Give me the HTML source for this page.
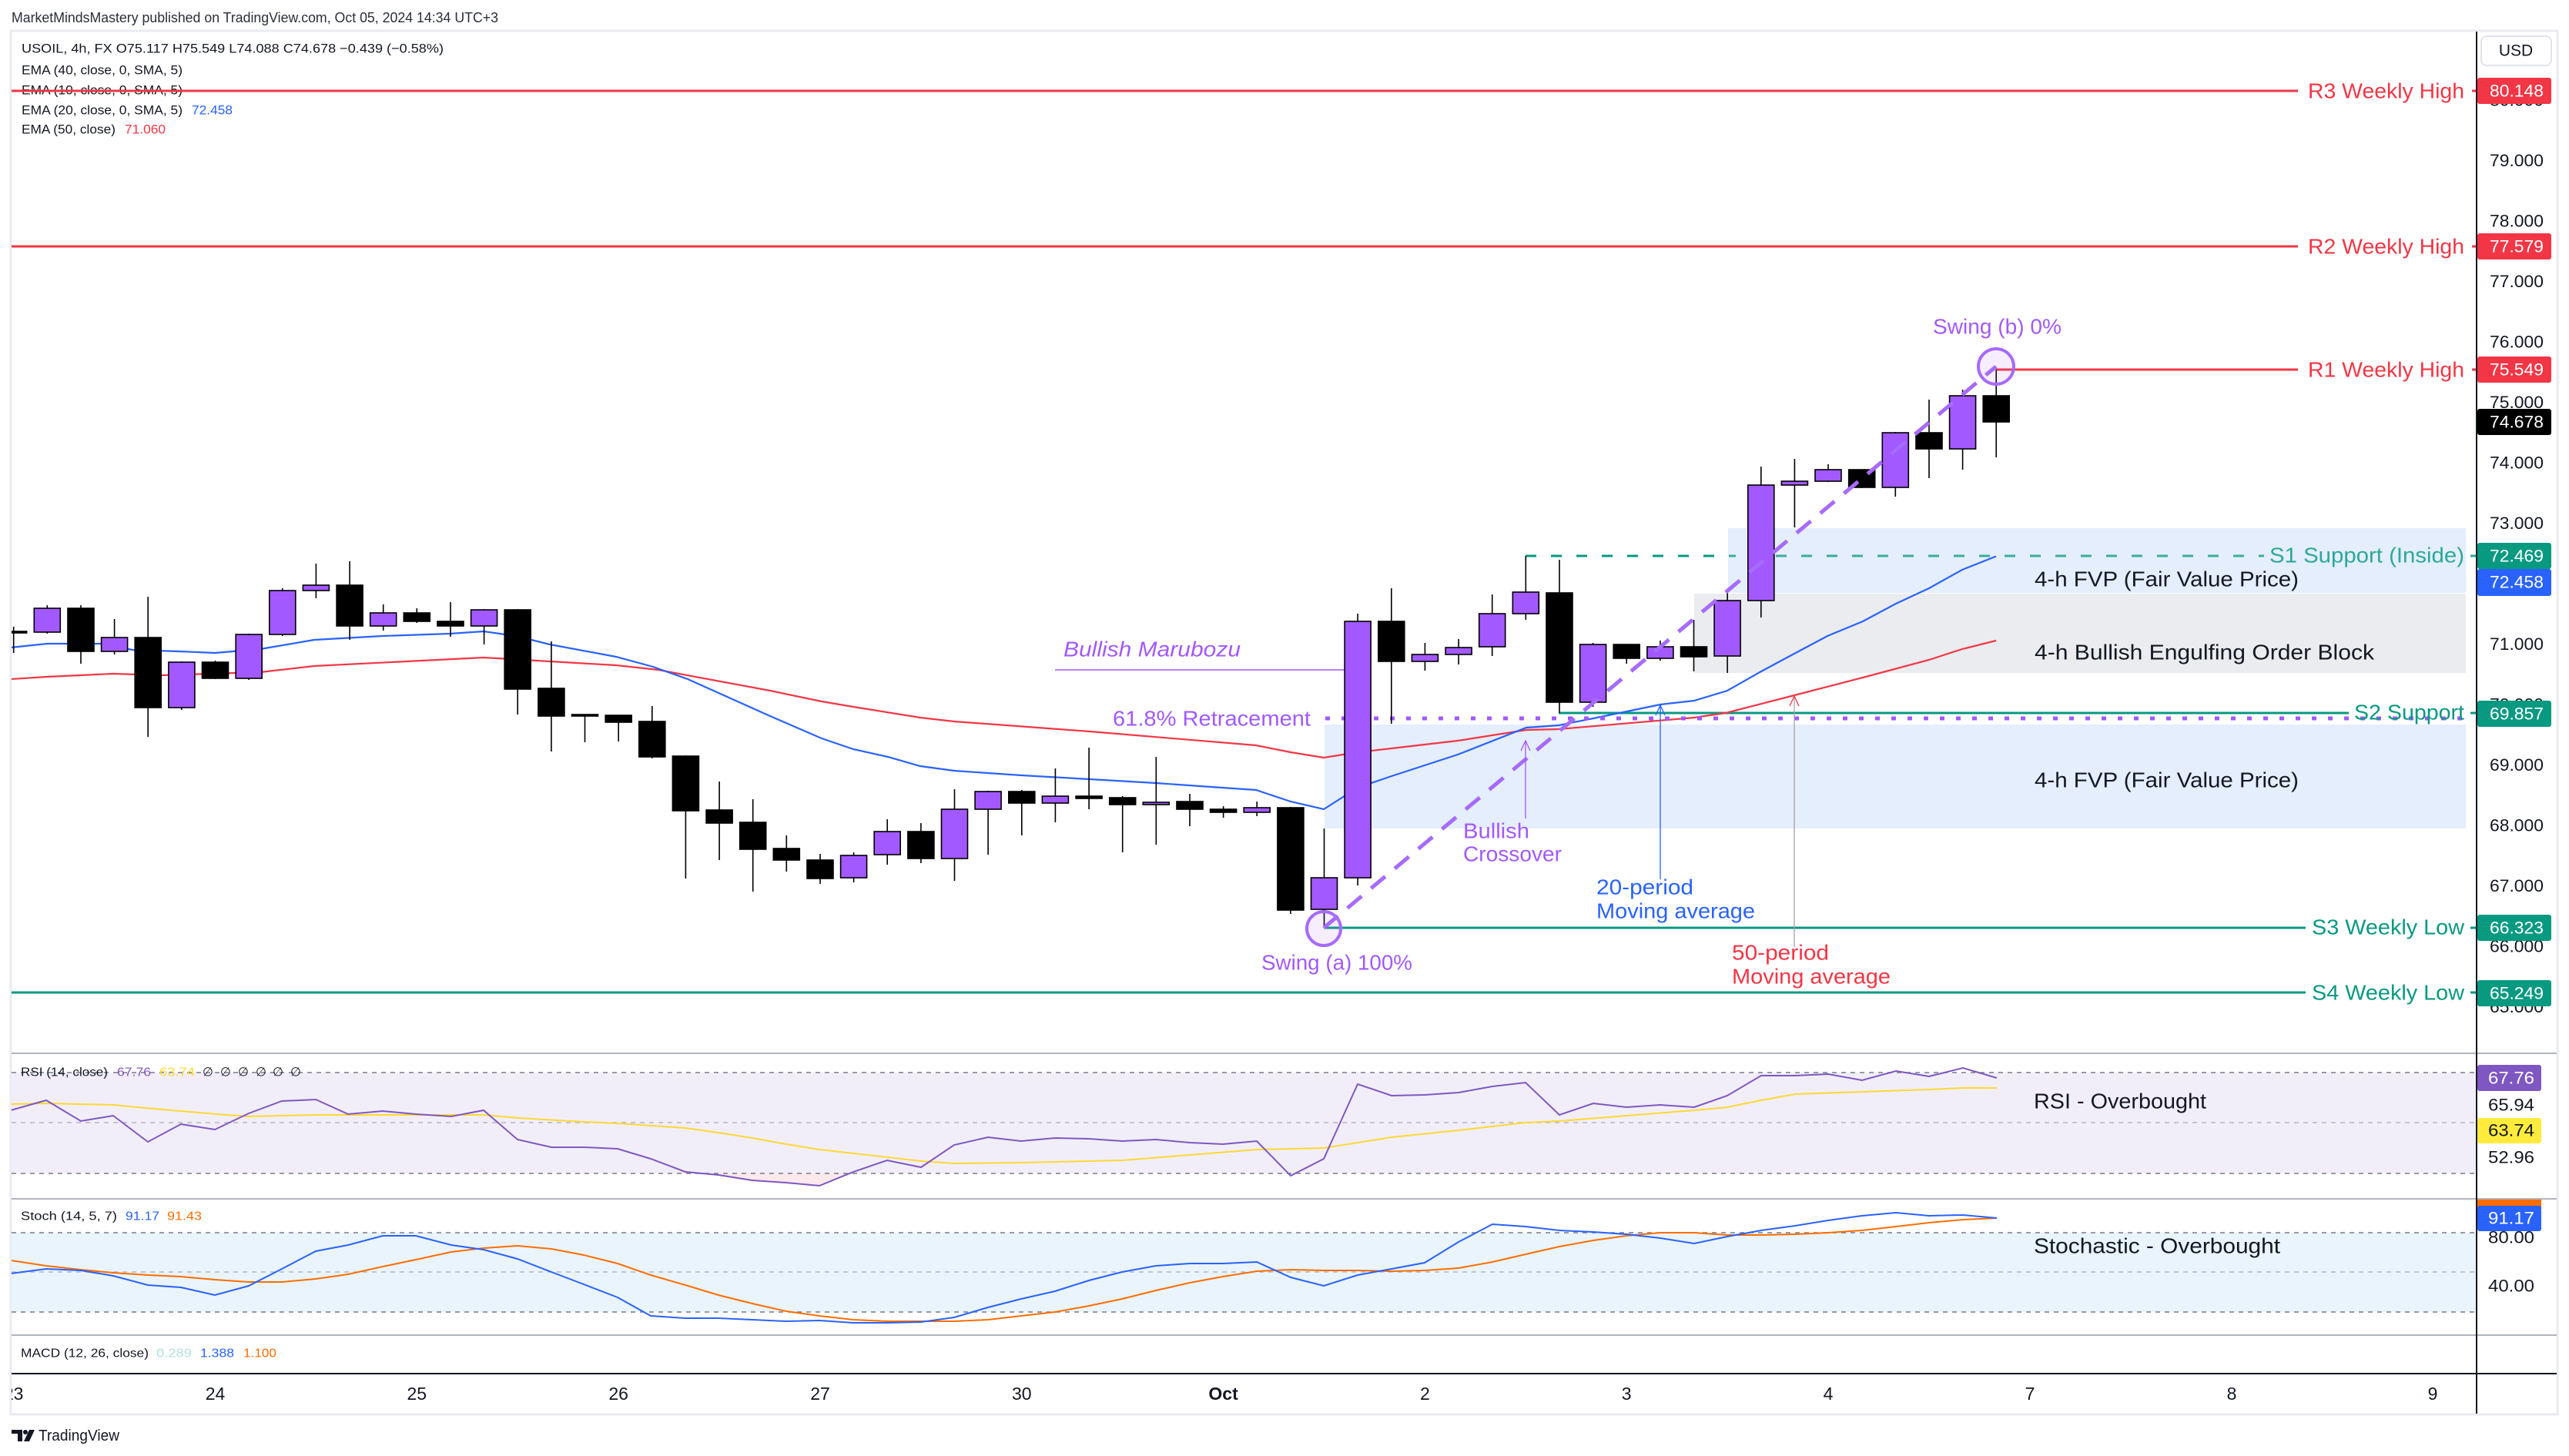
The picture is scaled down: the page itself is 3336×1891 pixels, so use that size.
<!DOCTYPE html>
<html><head><meta charset="utf-8"><style>
html,body{margin:0;padding:0;background:#fff;overflow:hidden}
svg{display:block}
text{font-family:"Liberation Sans",sans-serif}
</style></head><body>
<svg width="3336" height="1891" viewBox="0 0 3336 1891" xmlns="http://www.w3.org/2000/svg">
<defs>
<clipPath id="cm"><rect x="15" y="41" width="3200" height="1326"/></clipPath>
<clipPath id="cr"><rect x="15" y="1369" width="3200" height="187"/></clipPath>
<clipPath id="cs"><rect x="15" y="1558" width="3200" height="175"/></clipPath>
<clipPath id="ct"><rect x="15" y="1785" width="3200" height="50"/></clipPath>
</defs>
<rect width="3336" height="1891" fill="#fff"/>
<!-- header -->
<text x="15" y="23" font-size="18" fill="#2a2e39" dominant-baseline="central" textLength="632" lengthAdjust="spacingAndGlyphs">MarketMindsMastery published on TradingView.com, Oct 05, 2024 14:34 UTC+3</text>
<!-- frame -->
<rect x="14" y="40" width="3307" height="1797" fill="none" stroke="#e9ebf1" stroke-width="3"/>

<!-- legend -->
<g font-size="17" fill="#131722" dominant-baseline="central">
<text x="28" y="63" textLength="548" lengthAdjust="spacingAndGlyphs">USOIL, 4h, FX  O75.117  H75.549  L74.088  C74.678  −0.439 (−0.58%)</text>
<text x="28" y="91" textLength="209" lengthAdjust="spacingAndGlyphs">EMA (40, close, 0, SMA, 5)</text>
<text x="28" y="117" textLength="209" lengthAdjust="spacingAndGlyphs">EMA (10, close, 0, SMA, 5)</text>
<text x="28" y="143" textLength="209" lengthAdjust="spacingAndGlyphs">EMA (20, close, 0, SMA, 5)</text>
<text x="249" y="143" fill="#2962ff" textLength="53" lengthAdjust="spacingAndGlyphs">72.458</text>
<text x="28" y="168" textLength="122" lengthAdjust="spacingAndGlyphs">EMA (50, close)</text>
<text x="162" y="168" fill="#f23645" textLength="53" lengthAdjust="spacingAndGlyphs">71.060</text>
</g>

<g clip-path="url(#cm)">
<!-- boxes -->
<rect x="1720" y="941" width="1482" height="135" fill="#e5eefd"/>
<rect x="2200" y="771" width="1002" height="103" fill="#ebecef"/>
<rect x="2244" y="686" width="958" height="84" fill="#e5eefd"/>
<!-- horizontal levels -->
<g stroke="#f23645" stroke-width="3">
<line x1="14" y1="118" x2="2984" y2="118"/><line x1="3210" y1="118" x2="3216" y2="118"/>
<line x1="14" y1="320" x2="2984" y2="320"/><line x1="3210" y1="320" x2="3216" y2="320"/>
<line x1="2592" y1="480" x2="2984" y2="480"/><line x1="3210" y1="480" x2="3216" y2="480"/>
</g>
<g stroke="#089981" stroke-width="3">
<line x1="1981" y1="722" x2="2244" y2="722" stroke-dasharray="14 19"/>
<line x1="2245" y1="722" x2="2940" y2="722" stroke-dasharray="14 19" stroke="#3aac9f" stroke-dashoffset="5"/>
<line x1="3208" y1="722" x2="3216" y2="722" stroke="#2ba89a"/>
<line x1="2024" y1="926" x2="3050" y2="926"/><line x1="3208" y1="926" x2="3216" y2="926"/>
<line x1="1719" y1="1205" x2="2994" y2="1205"/><line x1="3208" y1="1205" x2="3216" y2="1205"/>
<line x1="14" y1="1289" x2="2994" y2="1289"/><line x1="3208" y1="1289" x2="3216" y2="1289"/>
</g>
<!-- EMAs -->
<polyline fill="none" stroke="#f23645" stroke-width="2.2" points="14,882 61,879 147,875 210,877 338,873 408,865 628,854 800,864 855,870 1000,897 1067,911 1108,918 1195,932 1239,937 1415,950 1631,968 1676,977 1719,984 1763,977 1807,972 1893,962 1982,948 2024,947 2200,932 2241,926 2330,903 2419,880 2505,857 2548,843 2592,832"/>
<polyline fill="none" stroke="#2962ff" stroke-width="2.2" points="14,841 61,836 131,836 172,844 233,846 279,848 338,843 408,831 497,826 584,823 628,820 670,826 714,837 800,853 848,866 893,882 1000,930 1067,959 1108,973 1153,983 1195,995 1239,1001 1327,1007 1415,1012 1501,1017 1587,1023 1631,1026 1676,1041 1719,1051 1763,1023 1807,1008 1893,980 1982,945 2024,942 2069,933 2156,915 2200,910 2243,897 2287,872 2328,850 2373,826 2419,807 2462,784 2505,764 2548,740 2592,722.5"/>
<!-- retracement dotted -->
<line x1="1721" y1="933" x2="3202" y2="933" stroke="#a259ff" stroke-width="5" stroke-dasharray="6 15"/>
<!-- marubozu underline -->
<line x1="1370" y1="870" x2="1746" y2="870" stroke="#a259ff" stroke-width="1.5"/>

<!-- candles -->
<g stroke="#000" stroke-width="1.6">
<line x1="17.7" y1="814" x2="17.7" y2="848"/><line x1="61.3" y1="786" x2="61.3" y2="823"/><line x1="105" y1="786" x2="105" y2="862"/><line x1="148.6" y1="804" x2="148.6" y2="850"/><line x1="192.2" y1="775" x2="192.2" y2="957"/><line x1="235.9" y1="859" x2="235.9" y2="922"/><line x1="279.5" y1="858" x2="279.5" y2="882"/><line x1="323.2" y1="823" x2="323.2" y2="883"/><line x1="366.8" y1="764" x2="366.8" y2="826"/><line x1="410.4" y1="732" x2="410.4" y2="777"/><line x1="454.1" y1="729" x2="454.1" y2="831"/><line x1="497.7" y1="785" x2="497.7" y2="819"/><line x1="541.3" y1="790" x2="541.3" y2="809"/><line x1="585" y1="782" x2="585" y2="827"/><line x1="628.6" y1="791" x2="628.6" y2="837"/><line x1="672.2" y1="791" x2="672.2" y2="928"/><line x1="715.9" y1="833" x2="715.9" y2="976"/><line x1="759.5" y1="928" x2="759.5" y2="964"/><line x1="803.2" y1="929" x2="803.2" y2="963"/><line x1="846.8" y1="917" x2="846.8" y2="985"/><line x1="890.4" y1="981" x2="890.4" y2="1141"/><line x1="934.1" y1="1015" x2="934.1" y2="1117"/><line x1="977.7" y1="1038" x2="977.7" y2="1158"/><line x1="1021.3" y1="1085" x2="1021.3" y2="1132"/><line x1="1065" y1="1109" x2="1065" y2="1148"/><line x1="1108.6" y1="1107" x2="1108.6" y2="1146"/><line x1="1152.2" y1="1064" x2="1152.2" y2="1123"/><line x1="1195.9" y1="1069" x2="1195.9" y2="1121"/><line x1="1239.5" y1="1025" x2="1239.5" y2="1144"/><line x1="1283.1" y1="1027" x2="1283.1" y2="1110"/><line x1="1326.8" y1="1026" x2="1326.8" y2="1085"/><line x1="1370.4" y1="998" x2="1370.4" y2="1068"/><line x1="1414.1" y1="971" x2="1414.1" y2="1051"/><line x1="1457.7" y1="1034" x2="1457.7" y2="1107"/><line x1="1501.3" y1="983" x2="1501.3" y2="1097"/><line x1="1545" y1="1031" x2="1545" y2="1073"/><line x1="1588.6" y1="1047" x2="1588.6" y2="1062"/><line x1="1632.2" y1="1041" x2="1632.2" y2="1060"/><line x1="1675.9" y1="1048" x2="1675.9" y2="1187"/><line x1="1719.5" y1="1076" x2="1719.5" y2="1205"/><line x1="1763.1" y1="797" x2="1763.1" y2="1150"/><line x1="1806.8" y1="764" x2="1806.8" y2="940"/><line x1="1850.4" y1="835" x2="1850.4" y2="871"/><line x1="1894.1" y1="830" x2="1894.1" y2="863"/><line x1="1937.7" y1="772" x2="1937.7" y2="852"/><line x1="1981.3" y1="722" x2="1981.3" y2="805"/><line x1="2025" y1="727" x2="2025" y2="926"/><line x1="2068.6" y1="835" x2="2068.6" y2="918"/><line x1="2112.2" y1="837" x2="2112.2" y2="862"/><line x1="2155.9" y1="832" x2="2155.9" y2="858"/><line x1="2199.5" y1="805" x2="2199.5" y2="872"/><line x1="2243.1" y1="770" x2="2243.1" y2="874"/><line x1="2286.8" y1="606" x2="2286.8" y2="802"/><line x1="2330.4" y1="596" x2="2330.4" y2="685"/><line x1="2374" y1="603" x2="2374" y2="626"/><line x1="2417.7" y1="610" x2="2417.7" y2="634"/><line x1="2461.3" y1="561" x2="2461.3" y2="645"/><line x1="2505" y1="519" x2="2505" y2="621"/><line x1="2548.6" y1="506" x2="2548.6" y2="610"/><line x1="2592.2" y1="480" x2="2592.2" y2="594"/>
</g>
<g stroke="#000" stroke-width="1.6">
<g fill="#000">
<rect x="0.7" y="820" width="34" height="2"/>
<rect x="88" y="790" width="34" height="56"/>
<rect x="175.2" y="828" width="34" height="91"/>
<rect x="262.5" y="860" width="34" height="21"/>
<rect x="437.1" y="760" width="34" height="53"/>
<rect x="524.3" y="796" width="34" height="11"/>
<rect x="568" y="807" width="34" height="6"/>
<rect x="655.2" y="792" width="34" height="103"/>
<rect x="698.9" y="894" width="34" height="36"/>
<rect x="742.5" y="928" width="34" height="2"/>
<rect x="786.2" y="929" width="34" height="9"/>
<rect x="829.8" y="937" width="34" height="46"/>
<rect x="873.4" y="982" width="34" height="71"/>
<rect x="917.1" y="1052" width="34" height="17"/>
<rect x="960.7" y="1068" width="34" height="35"/>
<rect x="1004.3" y="1102" width="34" height="15"/>
<rect x="1048" y="1117" width="34" height="24"/>
<rect x="1178.9" y="1080" width="34" height="35"/>
<rect x="1309.8" y="1028" width="34" height="15"/>
<rect x="1397.1" y="1034" width="34" height="3"/>
<rect x="1440.7" y="1036" width="34" height="9"/>
<rect x="1528" y="1041" width="34" height="10"/>
<rect x="1571.6" y="1051" width="34" height="4"/>
<rect x="1658.9" y="1049" width="34" height="133"/>
<rect x="1789.8" y="807" width="34" height="52"/>
<rect x="2008" y="770" width="34" height="142"/>
<rect x="2095.2" y="837" width="34" height="18"/>
<rect x="2182.5" y="840" width="34" height="13"/>
<rect x="2400.7" y="610" width="34" height="23"/>
<rect x="2488" y="562" width="34" height="21"/>
<rect x="2575.2" y="514" width="34" height="34"/>
</g>
<g fill="#a259ff">
<rect x="44.3" y="790" width="34" height="31"/>
<rect x="131.6" y="828" width="34" height="18"/>
<rect x="218.9" y="860" width="34" height="59"/>
<rect x="306.2" y="824" width="34" height="57"/>
<rect x="349.8" y="767" width="34" height="57"/>
<rect x="393.4" y="760" width="34" height="7"/>
<rect x="480.7" y="796" width="34" height="17"/>
<rect x="611.6" y="792" width="34" height="21"/>
<rect x="1091.6" y="1111" width="34" height="29"/>
<rect x="1135.2" y="1080" width="34" height="30"/>
<rect x="1222.5" y="1051" width="34" height="64"/>
<rect x="1266.1" y="1028" width="34" height="23"/>
<rect x="1353.4" y="1034" width="34" height="9"/>
<rect x="1484.3" y="1042" width="34" height="3"/>
<rect x="1615.2" y="1049" width="34" height="6"/>
<rect x="1702.5" y="1140" width="34" height="41"/>
<rect x="1746.1" y="807" width="34" height="333"/>
<rect x="1833.4" y="850" width="34" height="9"/>
<rect x="1877.1" y="841" width="34" height="9"/>
<rect x="1920.7" y="797" width="34" height="43"/>
<rect x="1964.3" y="769" width="34" height="28"/>
<rect x="2051.6" y="837" width="34" height="75"/>
<rect x="2138.9" y="840" width="34" height="15"/>
<rect x="2226.1" y="780" width="34" height="72"/>
<rect x="2269.8" y="630" width="34" height="150"/>
<rect x="2313.4" y="625" width="34" height="5"/>
<rect x="2357" y="610" width="34" height="15"/>
<rect x="2444.3" y="562" width="34" height="71"/>
<rect x="2531.6" y="514" width="34" height="69"/>
</g>
</g>

<!-- swing dashed line -->
<line x1="1719" y1="1205" x2="2592" y2="476" stroke="#a66bff" stroke-width="5" stroke-dasharray="24 16"/>
<!-- circles -->
<circle cx="1719" cy="1206" r="22" fill="rgba(165,91,255,0.1)" stroke="#a66bff" stroke-width="4"/>
<circle cx="2592" cy="476" r="23" fill="rgba(165,91,255,0.1)" stroke="#a66bff" stroke-width="4"/>

<!-- arrows -->
<g fill="none" stroke-width="1.3">
<g stroke="#a259ff"><line x1="1981" y1="1063" x2="1981" y2="962"/><polyline points="1975,975 1981,962 1987,975"/></g>
<g stroke="#2962ff"><line x1="2156" y1="1142" x2="2156" y2="916"/><polyline points="2150,929 2156,916 2162,929"/></g>
<g stroke="#a7a0a8"><line x1="2330" y1="1230" x2="2330" y2="904"/></g>
<polyline points="2324,917 2330,904 2336,917" stroke="#f23645"/>
</g>

<!-- annotation text -->
<g font-size="28" dominant-baseline="central">
<text x="3200" y="118" text-anchor="end" fill="#f23645" textLength="203" lengthAdjust="spacingAndGlyphs">R3 Weekly High</text>
<text x="3200" y="320" text-anchor="end" fill="#f23645" textLength="203" lengthAdjust="spacingAndGlyphs">R2 Weekly High</text>
<text x="3200" y="480" text-anchor="end" fill="#f23645" textLength="203" lengthAdjust="spacingAndGlyphs">R1 Weekly High</text>
<text x="3200" y="721" text-anchor="end" fill="#2ba89a" textLength="253" lengthAdjust="spacingAndGlyphs">S1 Support (Inside)</text>
<text x="3200" y="925" text-anchor="end" fill="#089981" textLength="143" lengthAdjust="spacingAndGlyphs">S2 Support</text>
<text x="3200" y="1204" text-anchor="end" fill="#089981" textLength="198" lengthAdjust="spacingAndGlyphs">S3 Weekly Low</text>
<text x="3200" y="1289" text-anchor="end" fill="#089981" textLength="198" lengthAdjust="spacingAndGlyphs">S4 Weekly Low</text>
<text x="2510" y="424" fill="#a259ff" textLength="167" lengthAdjust="spacingAndGlyphs">Swing (b) 0%</text>
<text x="2642" y="752" fill="#131722" textLength="343" lengthAdjust="spacingAndGlyphs">4-h FVP (Fair Value Price)</text>
<text x="2642" y="847" fill="#131722" textLength="441" lengthAdjust="spacingAndGlyphs">4-h Bullish Engulfing Order Block</text>
<text x="2642" y="1013" fill="#131722" textLength="343" lengthAdjust="spacingAndGlyphs">4-h FVP (Fair Value Price)</text>
<text x="1381" y="843" fill="#a259ff" font-style="italic" textLength="230" lengthAdjust="spacingAndGlyphs">Bullish Marubozu</text>
<text x="1445" y="933" fill="#a259ff" textLength="257" lengthAdjust="spacingAndGlyphs">61.8% Retracement</text>
<text x="1900" y="1079" fill="#a259ff" textLength="86" lengthAdjust="spacingAndGlyphs">Bullish</text>
<text x="1900" y="1109" fill="#a259ff" textLength="128" lengthAdjust="spacingAndGlyphs">Crossover</text>
<text x="2073" y="1152" fill="#2962ff" textLength="126" lengthAdjust="spacingAndGlyphs">20-period</text>
<text x="2073" y="1183" fill="#2962ff" textLength="206" lengthAdjust="spacingAndGlyphs">Moving average</text>
<text x="2249" y="1237" fill="#f23645" textLength="126" lengthAdjust="spacingAndGlyphs">50-period</text>
<text x="2249" y="1268" fill="#f23645" textLength="206" lengthAdjust="spacingAndGlyphs">Moving average</text>
<text x="1638" y="1250" fill="#a259ff" textLength="196" lengthAdjust="spacingAndGlyphs">Swing (a) 100%</text>
</g>
</g>

<!-- RSI pane -->
<rect x="15" y="1393" width="3201" height="131" fill="#f2eef9"/>
<polygon points="845,1524 890,1522 933,1526 977,1533 1021,1536 1064,1540 1108,1524" fill="#fbe9ec"/>
<g stroke="#787b86" stroke-width="1.5" stroke-dasharray="6 6">
<line x1="15" y1="1393" x2="3216" y2="1393"/><line x1="15" y1="1458" x2="3216" y2="1458" stroke="#b2b5be"/><line x1="15" y1="1524" x2="3216" y2="1524"/>
</g>
<g clip-path="url(#cr)" fill="none" stroke-width="2">
<polyline stroke="#fdd835" points="14,1434 60,1433 147,1435 189,1439 281,1447 323,1450 410,1448 628,1448 673,1452 758,1457 802,1459 890,1465 933,1471 977,1478 1021,1486 1064,1493 1109,1498 1196,1508 1239,1511 1326,1510 1457,1507 1545,1500 1632,1493 1719,1491 1807,1477 1894,1468 1981,1458 2025,1456 2112,1449 2200,1442 2243,1438 2287,1429 2331,1421 2418,1418 2505,1415 2549,1413 2593,1413"/>
<polyline stroke="#7e57c2" points="14,1442 60,1429 105,1456 147,1449 192,1483 235,1460 279,1467 323,1446 366,1430 410,1428 452,1447 497,1443 540,1447 586,1450 628,1442 672,1480 716,1490 758,1490 802,1492 845,1505 890,1522 933,1526 977,1533 1021,1536 1064,1540 1108,1522 1152,1507 1196,1516 1239,1487 1283,1477 1326,1482 1370,1478 1414,1479 1457,1482 1501,1480 1545,1484 1588,1486 1632,1482 1676,1527 1719,1505 1763,1408 1807,1423 1850,1422 1894,1419 1938,1411 1981,1406 2025,1448 2069,1433 2112,1438 2156,1435 2200,1438 2243,1423 2287,1397 2331,1397 2374,1395 2418,1403 2462,1391 2505,1398 2549,1387 2593,1400"/>
</g>
<g font-size="28" dominant-baseline="central"><text x="2641" y="1430" fill="#131722" textLength="224" lengthAdjust="spacingAndGlyphs">RSI - Overbought</text></g>
<g font-size="16" dominant-baseline="central">
<text x="27" y="1393" fill="#131722" textLength="113" lengthAdjust="spacingAndGlyphs">RSI (14, close)</text>
<text x="152" y="1393" fill="#7e57c2" textLength="44" lengthAdjust="spacingAndGlyphs">67.76</text>
<text x="207" y="1393" fill="#fdd835" textLength="46" lengthAdjust="spacingAndGlyphs">63.74</text>
<text x="263" y="1393" fill="#131722">∅</text><text x="286" y="1393" fill="#131722">∅</text><text x="309" y="1393" fill="#131722">∅</text><text x="332" y="1393" fill="#131722">∅</text><text x="354" y="1393" fill="#131722">∅</text><text x="377" y="1393" fill="#131722">∅</text>
</g>

<!-- Stoch pane -->
<rect x="15" y="1601" width="3201" height="103" fill="#e9f4fd"/>
<g stroke="#787b86" stroke-width="1.5" stroke-dasharray="6 6">
<line x1="15" y1="1601" x2="3216" y2="1601"/><line x1="15" y1="1652" x2="3216" y2="1652" stroke="#b2b5be"/><line x1="15" y1="1704" x2="3216" y2="1704"/>
</g>
<g clip-path="url(#cs)" fill="none" stroke-width="2">
<polyline stroke="#ff6d00" points="14,1637 60,1644 105,1649 147,1653 192,1656 235,1658 279,1662 323,1665 366,1665 410,1661 452,1655 497,1645 540,1636 586,1626 628,1621 672,1618 716,1622 758,1630 802,1641 845,1656 890,1669 933,1682 977,1693 1021,1703 1064,1709 1108,1714 1152,1716 1196,1716 1239,1716 1283,1714 1326,1709 1370,1704 1414,1696 1457,1687 1501,1676 1545,1666 1588,1658 1632,1651 1676,1649 1719,1650 1763,1650 1807,1651 1850,1650 1894,1647 1938,1639 1981,1629 2025,1619 2069,1611 2112,1605 2156,1601 2200,1601 2243,1604 2287,1604 2331,1603 2374,1601 2418,1598 2462,1593 2505,1588 2549,1584 2593,1582"/>
<polyline stroke="#2962ff" points="14,1654 60,1648 105,1650 147,1657 192,1669 235,1672 279,1682 323,1670 366,1648 410,1625 452,1617 497,1605 540,1605 586,1617 628,1623 672,1635 716,1652 758,1668 802,1685 845,1709 890,1712 933,1712 977,1714 1021,1716 1064,1715 1108,1718 1152,1718 1196,1717 1239,1711 1283,1698 1326,1687 1370,1677 1414,1663 1457,1652 1501,1644 1545,1641 1588,1641 1632,1639 1676,1659 1719,1670 1763,1656 1807,1648 1850,1640 1894,1613 1938,1590 1981,1593 2025,1598 2069,1600 2112,1603 2156,1608 2200,1615 2243,1606 2287,1598 2331,1592 2374,1585 2418,1579 2462,1575 2505,1579 2549,1578 2593,1582"/>
</g>
<g font-size="28" dominant-baseline="central"><text x="2641" y="1618" fill="#131722" textLength="320" lengthAdjust="spacingAndGlyphs">Stochastic - Overbought</text></g>
<g font-size="16" dominant-baseline="central">
<text x="27" y="1580" fill="#131722" textLength="125" lengthAdjust="spacingAndGlyphs">Stoch (14, 5, 7)</text>
<text x="163" y="1580" fill="#2962ff" textLength="44" lengthAdjust="spacingAndGlyphs">91.17</text>
<text x="217" y="1580" fill="#ff6d00" textLength="45" lengthAdjust="spacingAndGlyphs">91.43</text>
<text x="27" y="1758" fill="#131722" textLength="166" lengthAdjust="spacingAndGlyphs">MACD (12, 26, close)</text>
<text x="203" y="1758" fill="#b2dfdb" textLength="46" lengthAdjust="spacingAndGlyphs">0.289</text>
<text x="260" y="1758" fill="#2962ff" textLength="44" lengthAdjust="spacingAndGlyphs">1.388</text>
<text x="316" y="1758" fill="#ff6d00" textLength="43" lengthAdjust="spacingAndGlyphs">1.100</text>
</g>

<!-- pane separators -->
<g stroke="#b2b5be" stroke-width="2">
<line x1="15" y1="1368" x2="3320" y2="1368"/>
<line x1="15" y1="1557" x2="3320" y2="1557"/>
<line x1="15" y1="1734" x2="3320" y2="1734"/>
</g>
<!-- axes -->
<line x1="15" y1="1784" x2="3320" y2="1784" stroke="#131722" stroke-width="2"/>
<line x1="3216" y1="41" x2="3216" y2="1836" stroke="#131722" stroke-width="2"/>

<!-- time labels -->
<g font-size="23" fill="#131722" text-anchor="middle" dominant-baseline="central">
<g clip-path="url(#ct)"><text x="17.7" y="1810">23</text></g>
<text x="279.5" y="1810">24</text><text x="541.3" y="1810">25</text><text x="803.2" y="1810">26</text><text x="1065" y="1810">27</text><text x="1326.8" y="1810">30</text><text x="1588.6" y="1810" font-weight="bold">Oct</text><text x="1850.4" y="1810">2</text><text x="2112.2" y="1810">3</text><text x="2374" y="1810">4</text><text x="2636" y="1810">7</text><text x="2898" y="1810">8</text><text x="3159" y="1810">9</text>
</g>

<!-- price axis -->
<rect x="3222" y="47" width="91" height="38" rx="7" fill="#fff" stroke="#e0e3eb" stroke-width="2"/>
<text x="3267" y="66" font-size="21" fill="#131722" text-anchor="middle" dominant-baseline="central">USD</text>
<g font-size="22" fill="#131722" text-anchor="middle" dominant-baseline="central">
<text x="3268" y="130" textLength="70" lengthAdjust="spacingAndGlyphs">80.000</text>
<text x="3268" y="208.5" textLength="70" lengthAdjust="spacingAndGlyphs">79.000</text>
<text x="3268" y="287" textLength="70" lengthAdjust="spacingAndGlyphs">78.000</text>
<text x="3268" y="365.5" textLength="70" lengthAdjust="spacingAndGlyphs">77.000</text>
<text x="3268" y="444" textLength="70" lengthAdjust="spacingAndGlyphs">76.000</text>
<text x="3268" y="522.5" textLength="70" lengthAdjust="spacingAndGlyphs">75.000</text>
<text x="3268" y="601" textLength="70" lengthAdjust="spacingAndGlyphs">74.000</text>
<text x="3268" y="679.5" textLength="70" lengthAdjust="spacingAndGlyphs">73.000</text>
<text x="3268" y="836.5" textLength="70" lengthAdjust="spacingAndGlyphs">71.000</text>
<text x="3268" y="915" textLength="70" lengthAdjust="spacingAndGlyphs">70.000</text>
<text x="3268" y="993.5" textLength="70" lengthAdjust="spacingAndGlyphs">69.000</text>
<text x="3268" y="1072" textLength="70" lengthAdjust="spacingAndGlyphs">68.000</text>
<text x="3268" y="1150.5" textLength="70" lengthAdjust="spacingAndGlyphs">67.000</text>
<text x="3268" y="1229" textLength="70" lengthAdjust="spacingAndGlyphs">66.000</text>
<text x="3268" y="1307.5" textLength="70" lengthAdjust="spacingAndGlyphs">65.000</text>
<text x="3261" y="1435" textLength="60" lengthAdjust="spacingAndGlyphs">65.94</text>
<text x="3261" y="1503" textLength="60" lengthAdjust="spacingAndGlyphs">52.96</text>
<text x="3261" y="1607" textLength="60" lengthAdjust="spacingAndGlyphs">80.00</text>
<text x="3261" y="1670" textLength="60" lengthAdjust="spacingAndGlyphs">40.00</text>
</g>
<g>
<rect x="3217" y="101" width="96" height="34" rx="3" fill="#f23645"/>
<rect x="3217" y="303" width="96" height="34" rx="3" fill="#f23645"/>
<rect x="3217" y="463" width="96" height="34" rx="3" fill="#f23645"/>
<rect x="3217" y="531" width="96" height="34" rx="3" fill="#000"/>
<rect x="3217" y="705" width="96" height="34" rx="3" fill="#089981"/>
<rect x="3217" y="739" width="96" height="35" rx="3" fill="#2962ff"/>
<rect x="3217" y="910" width="96" height="34" rx="3" fill="#089981"/>
<rect x="3217" y="1188" width="96" height="34" rx="3" fill="#089981"/>
<rect x="3217" y="1273" width="96" height="34" rx="3" fill="#089981"/>
<rect x="3217" y="1383" width="83" height="34" rx="3" fill="#7e57c2"/>
<rect x="3217" y="1452" width="83" height="33" rx="3" fill="#ffeb3b"/>
<rect x="3217" y="1558" width="83" height="10" fill="#ff6d00"/>
<rect x="3217" y="1566" width="83" height="33" rx="3" fill="#2962ff"/>
</g>
<g font-size="22" fill="#fff" text-anchor="middle" dominant-baseline="central">
<text x="3268" y="118" textLength="70" lengthAdjust="spacingAndGlyphs">80.148</text>
<text x="3268" y="320" textLength="70" lengthAdjust="spacingAndGlyphs">77.579</text>
<text x="3268" y="480" textLength="70" lengthAdjust="spacingAndGlyphs">75.549</text>
<text x="3268" y="548" textLength="70" lengthAdjust="spacingAndGlyphs">74.678</text>
<text x="3268" y="722" textLength="70" lengthAdjust="spacingAndGlyphs">72.469</text>
<text x="3268" y="756" textLength="70" lengthAdjust="spacingAndGlyphs">72.458</text>
<text x="3268" y="927" textLength="70" lengthAdjust="spacingAndGlyphs">69.857</text>
<text x="3268" y="1205" textLength="70" lengthAdjust="spacingAndGlyphs">66.323</text>
<text x="3268" y="1290" textLength="70" lengthAdjust="spacingAndGlyphs">65.249</text>
<text x="3261" y="1400" textLength="60" lengthAdjust="spacingAndGlyphs">67.76</text>
<text x="3261" y="1468" fill="#131722" textLength="60" lengthAdjust="spacingAndGlyphs">63.74</text>
<text x="3261" y="1582" textLength="60" lengthAdjust="spacingAndGlyphs">91.17</text>
</g>

<!-- TradingView logo -->
<g fill="#131722">
<polygon points="15,1857 29,1857 29,1872 23,1872 23,1862 15,1862"/>
<circle cx="33" cy="1860" r="3"/>
<polygon points="38,1857 45,1857 38,1872 31,1872"/>
</g>
<text x="50" y="1865" font-size="20" fill="#131722" dominant-baseline="central" textLength="105" lengthAdjust="spacingAndGlyphs">TradingView</text>
</svg>
</body></html>
